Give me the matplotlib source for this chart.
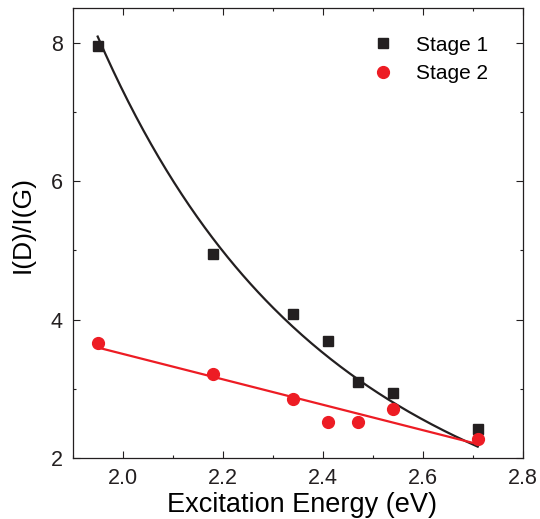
import numpy as np
import matplotlib
matplotlib.use("Agg")
import matplotlib.pyplot as plt
from matplotlib.ticker import MultipleLocator

plt.rcParams['font.family'] = ['Liberation Sans', 'DejaVu Sans']

# excitation energies (eV) and D/G intensity ratios
energy = [1.95, 2.18, 2.34, 2.41, 2.47, 2.54, 2.71]
stage1 = [7.95, 4.95, 4.08, 3.70, 3.10, 2.94, 2.42]
stage2 = [3.67, 3.22, 2.85, 2.53, 2.52, 2.71, 2.28]

x = np.array(energy)
y1 = np.array(stage1)
y2 = np.array(stage2)

# stage 1: E^-4 fit, stage 2: linear fit
amp = np.sum(y1 * x**-4) / np.sum(x**-8)
p2 = np.polyfit(x, y2, 1)
xf = np.linspace(x.min(), x.max(), 200)

fig = plt.figure(figsize=(5.4, 5.19), dpi=100)
ax = fig.add_axes([0.1346, 0.117, 0.8334, 0.8676])

black = '#231f20'
red = '#ed1c24'

ax.plot(xf, amp * xf**-4, color=black, lw=1.6, zorder=2)
ax.plot(xf, np.polyval(p2, xf), color=red, lw=1.6, zorder=2)
ax.plot(x, y1, 's', color=black, ms=7, ls='none', label='Stage 1', zorder=3)
ax.plot(x, y2, 'o', color=red, ms=8.5, ls='none', label='Stage 2', zorder=3)

ax.set_xlim(1.9, 2.8)
ax.set_ylim(2, 8.5)
ax.xaxis.set_major_locator(MultipleLocator(0.2))
ax.xaxis.set_minor_locator(MultipleLocator(0.1))
ax.yaxis.set_major_locator(MultipleLocator(2))
ax.yaxis.set_minor_locator(MultipleLocator(1))
ax.set_xticks([2.0, 2.2, 2.4, 2.6, 2.8])
ax.set_xticklabels(['2.0', '2.2', '2.4', '2.6', '2.8'])

ax.tick_params(which='both', direction='in', top=True, right=True,
               labelsize=15.5, colors='#231f20', pad=7)
ax.tick_params(which='major', length=5, width=0.8)
ax.tick_params(which='minor', length=2.5, width=0.8)
for s in ax.spines.values():
    s.set_linewidth(0.9)
    s.set_color('#231f20')

ax.set_xlabel('Excitation Energy (eV)', fontsize=19.5)
ax.set_ylabel('I(D)/I(G)', fontsize=19)
ax.xaxis.set_label_coords(0.51, -0.075)
ax.yaxis.set_label_coords(-0.085, 0.52)

ax.legend(loc='upper right', bbox_to_anchor=(0.965, 0.98), frameon=False,
          fontsize=15, handletextpad=0.8, labelspacing=0.45,
          handlelength=1.6)

fig.savefig('out.png', dpi=100)
